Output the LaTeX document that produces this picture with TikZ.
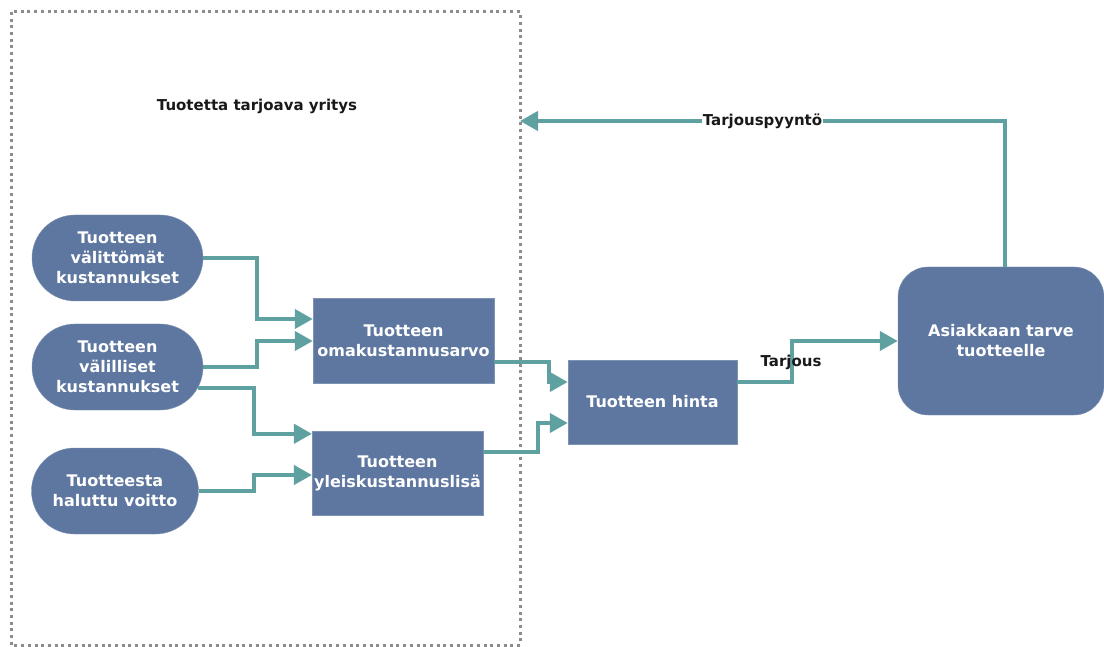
\documentclass[tikz,border=0pt]{standalone}
\usepackage{fontspec}
\setmainfont{DejaVu Sans}
\usetikzlibrary{arrows.meta, shapes.misc}
\definecolor{boxblue}{HTML}{5E77A0}
\definecolor{flowteal}{HTML}{5FA0A0}
\definecolor{framegray}{HTML}{8C8C8C}
\tikzset{
  cost/.style={rounded rectangle, fill=boxblue, draw=boxblue!80!white, text=white,
    font=\fontsize{16}{20}\selectfont\bfseries, align=center,
    minimum width=175pt, minimum height=86pt, inner sep=2pt},
  calcbox/.style={rectangle, fill=boxblue, draw=boxblue!80!white, text=white,
    font=\fontsize{16}{20}\selectfont\bfseries, align=center, inner sep=2pt},
  flow/.style={draw=flowteal, line width=4pt, -{Triangle[length=18pt,width=19pt]}},
  tag/.style={font=\fontsize{15}{19}\selectfont\bfseries, text=black!90, inner sep=1pt},
  frame/.style={draw=framegray, line width=3pt, dash pattern=on 3pt off 3.7pt}
}
\begin{document}
\begin{tikzpicture}[x=1pt, y=-1pt]
  \useasboundingbox (0,0) rectangle (1104,647);
  % company frame
  \draw[frame] (11,12) rectangle (520,645);
  \node[tag] (yritys) at (257,106) {Tuotetta tarjoava yritys};
  \coordinate (pyyntoend) at (520,121);

  % costs
  \node[cost] (valitt) at (117.5,258) {Tuotteen\\välittömät\\kustannukset};
  \node[cost] (valill) at (117.5,367) {Tuotteen\\välilliset\\kustannukset};
  \node[cost, minimum width=171pt] (voitto) at (115,491) {Tuotteesta\\haluttu voitto};

  \node[calcbox, minimum width=181pt, minimum height=85pt] (omak) at (403.5,341) {Tuotteen\\omakustannusarvo};
  \node[calcbox, minimum width=169pt, minimum height=84pt] (yleis) at (397.5,473) {Tuotteen\\yleiskustannuslisä};
  \node[calcbox, minimum width=169pt, minimum height=84pt] (hinta) at (652.5,402) {Tuotteen hinta};

  \node[calcbox, rounded corners=30pt, minimum width=206pt, minimum height=148pt] (asiakas) at (1001,341) {Asiakkaan tarve\\tuotteelle};

  % connectors
  \draw[flow] (valitt.east) -- ++(54,0) |- ([yshift=22pt]omak.west);
  \draw[flow] (valill.east) -- ++(54,0) |- (omak.west);
  \draw[flow] (valill.-15) -- ++(56,0) |- ([yshift=-3pt]yleis.north west);
  \draw[flow] (voitto.east) -- ++(55,0) |- ([yshift=-2pt]yleis.west);
  \draw[flow] ([yshift=-21pt]omak.east) -- ++(55,0) |- ([yshift=20pt]hinta.west);
  \draw[flow] ([yshift=21pt]yleis.east) -- ++(55,0) |- ([yshift=-21pt]hinta.west);
  \draw[flow] ([yshift=20pt]hinta.east) -- ++(55,0) |- (asiakas.west);
  \node[tag] (tarjous) at (791,362) {Tarjous};
  \draw[flow] ([xshift=4pt]asiakas.north) |- node[tag, pos=0.75, fill=white] (pyynto) {Tarjouspyyntö} (pyyntoend);
\end{tikzpicture}
\end{document}
